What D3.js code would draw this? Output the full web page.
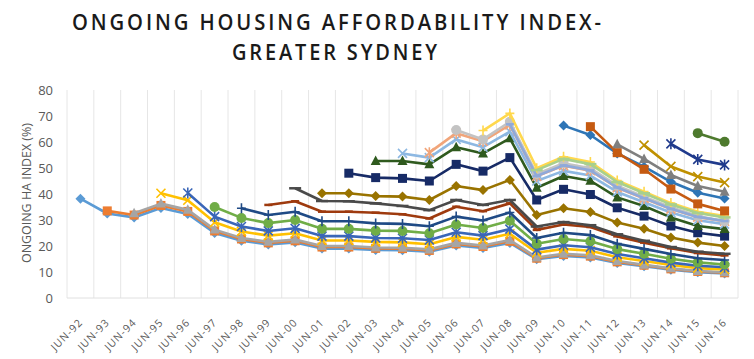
<!DOCTYPE html>
<html><head><meta charset="utf-8">
<script src="https://cdnjs.cloudflare.com/ajax/libs/d3/7.8.5/d3.min.js"></script>
<style>body{margin:0;background:#fff;} svg{display:block;}</style>
</head><body><svg id="c" width="754" height="359"></svg>
<script>
// ---------- DATA ----------
const categories = ["JUN-92","JUN-93","JUN-94","JUN-95","JUN-96","JUN-97","JUN-98","JUN-99","JUN-00","JUN-01","JUN-02","JUN-03","JUN-04","JUN-05","JUN-06","JUN-07","JUN-08","JUN-09","JUN-10","JUN-11","JUN-12","JUN-13","JUN-14","JUN-15","JUN-16"];
const yTicks = [0,10,20,30,40,50,60,70,80];
const titleLines = ["ONGOING HOUSING AFFORDABILITY INDEX-","GREATER SYDNEY"];
const yTitle = "ONGOING HA INDEX (%)";

// each cohort: values from its start year (JUN-xx) to JUN-16
const s92 = [38.2,32.5,31.0,34.6,32.3,25.0,22.0,20.6,21.4,19.0,19.0,18.5,18.4,17.8,20.2,19.2,21.2,14.9,16.2,15.6,13.5,12.2,10.9,9.9,9.4];
const s93 = [33.5,31.9,35.6,33.3,25.8,22.7,21.2,22.0,19.6,19.6,19.1,19.0,18.3,20.8,19.8,21.8,15.3,16.7,16.1,13.9,12.6,11.2,10.2,9.7];
const s94 = [32.6,36.3,33.9,26.3,23.1,21.6,22.5,20.0,20.0,19.4,19.3,18.7,21.2,20.2,22.3,15.6,17.0,16.4,14.2,12.8,11.4,10.4,9.9];
const s95 = [40.3,37.6,29.1,25.6,24.0,24.9,22.1,22.1,21.6,21.4,20.7,23.5,22.4,24.7,17.4,18.9,18.2,15.7,14.2,12.7,11.5,11.0];
const s96 = [40.4,31.3,27.5,25.8,26.8,23.8,23.8,23.1,23.0,22.3,25.3,24.0,26.5,18.6,20.3,19.5,16.9,15.3,13.6,12.4,11.8];
const s97 = [35.0,30.8,28.8,30.0,26.6,26.6,25.9,25.8,24.9,28.3,26.9,29.7,20.9,22.7,21.8,18.8,17.0,15.1,13.7,12.9];
const s98 = [34.5,31.9,33.2,29.5,29.5,28.7,28.5,27.6,31.3,29.8,32.9,23.1,25.1,24.2,20.9,18.9,16.9,15.3,14.6];
const s99 = [35.8,37.2,33.2,33.2,32.8,32.2,30.6,35.1,33.4,36.4,26.2,28.3,27.3,23.7,21.3,19.1,17.3,16.4];
const s00 = [42.2,37.3,37.2,36.4,35.4,33.8,37.7,35.8,37.7,27.5,29.2,28.0,24.5,22.0,19.6,17.8,17.0];
const s01 = [40.3,40.3,39.2,39.0,37.7,43.1,41.5,45.4,31.9,34.5,33.1,29.0,26.6,23.3,21.3,20.0];
const s02 = [48.0,46.3,46.0,45.0,51.4,48.8,54.0,37.7,41.8,39.8,34.7,31.5,27.7,25.1,23.8];
const s03 = [52.7,52.7,51.4,58.0,55.6,61.4,42.4,46.9,45.1,38.7,35.4,31.0,27.7,26.5];
const s04 = [55.6,54.0,61.0,58.0,64.0,45.0,48.9,47.1,40.8,36.8,32.9,29.9,28.4];
const s05 = [55.9,63.4,60.3,66.6,46.8,50.9,49.0,42.4,38.3,34.2,31.1,29.5];
const s06 = [64.6,61.0,67.8,47.7,51.8,49.9,43.2,39.0,34.9,31.5,29.5];
const s07 = [64.4,71.0,49.9,54.3,52.3,45.2,40.9,36.5,33.2,31.5];
const s08 = [66.8,46.9,51.0,49.1,42.5,38.4,34.3,31.2,29.6];
const s09 = [49.2,53.5,51.5,44.6,40.3,36.0,32.7,31.0];
const s10 = [66.3,62.7,55.6,50.5,44.7,40.5,38.3];
const s11 = [65.9,55.9,49.5,41.9,36.2,33.5];
const s12 = [59.1,53.5,47.3,43.1,40.9];
const s13 = [58.8,50.6,46.7,44.4];
const s14 = [59.3,53.3,51.2];
const s15 = [63.4,60.1];

const seriesStart = categories.slice(0, 24);
const seriesValues = [s92,s93,s94,s95,s96,s97,s98,s99,s00,s01,s02,s03,s04,s05,s06,s07,s08,s09,s10,s11,s12,s13,s14,s15];

// ---------- STYLE ----------
const seriesColors = ["#5B9BD5","#ED7D31","#A5A5A5","#FFC000","#3A66B8","#70AD47",
                      "#1F4A85","#9E3A0E","#4A4A4A","#997300","#172B66","#2F5A1E",
                      "#8DB8E2","#F1A57A","#C3C3C3","#FFD84D","#8FA9DA","#A8D08D",
                      "#2E75B6","#C55A11","#7F7F7F","#BF9000","#1F3A8C","#4E7A2E"];
const markerCycle = ["diamond","square","triangle","x","star","circle","plus","dash","longdash"];

const W = 754, H = 359;
const M = {left: 67, right: 738, top: 90, bottom: 298};
const svg = d3.select("#c");
svg.append("rect").attr("width", W).attr("height", H).attr("fill", "#fff");

const x = d3.scaleBand().domain(categories).range([M.left, M.right]).paddingInner(0).paddingOuter(0);
const y = d3.scaleLinear().domain([0, 80]).range([M.bottom, M.top]);
const cx = c => x(c) + x.bandwidth() / 2;

// vertical gridlines at band boundaries
const bounds = categories.map(c => x(c)).concat([M.right]);
svg.append("g").selectAll("line").data(bounds).join("line")
  .attr("x1", d => d).attr("x2", d => d)
  .attr("y1", M.top).attr("y2", M.bottom)
  .attr("stroke", "#e6e6e6").attr("stroke-width", 1);
svg.append("line").attr("x1", M.left).attr("x2", M.right)
  .attr("y1", M.bottom).attr("y2", M.bottom)
  .attr("stroke", "#e0e0e0").attr("stroke-width", 1);

// y axis
const yAxis = d3.axisLeft(y).tickValues(yTicks).tickSize(0).tickPadding(0);
const gy = svg.append("g").attr("transform", `translate(${M.left - 14},0)`).call(yAxis);
gy.select(".domain").remove();
gy.selectAll("text").attr("font-family", "'Open Sans', sans-serif").attr("font-size", 13)
  .attr("fill", "#595959").attr("dy", "0.35em");

// x axis labels
const xAxis = d3.axisBottom(x).tickSize(0).tickPadding(0);
const gx = svg.append("g").attr("transform", `translate(0,${M.bottom})`).call(xAxis);
gx.select(".domain").remove();
gx.selectAll(".tick text")
  .attr("font-family", "'Open Sans', sans-serif").attr("font-size", 10.5)
  .attr("letter-spacing", "1px")
  .attr("fill", "#595959")
  .attr("text-anchor", "end").attr("dy", 0).attr("y", 0)
  .attr("transform", "translate(3,25) rotate(-45)");

// y title
svg.append("text")
  .attr("transform", `translate(31,${(123+263)/2}) rotate(-90)`)
  .attr("text-anchor", "middle")
  .attr("font-family", "'Open Sans', sans-serif").attr("font-size", 12.5)
  .attr("fill", "#595959")
  .attr("textLength", 140).attr("lengthAdjust", "spacingAndGlyphs")
  .text(yTitle);

// title
svg.append("text").attr("x", 338).attr("y", 30).attr("text-anchor", "middle")
  .attr("font-family", "'Open Sans', sans-serif").attr("font-weight", 600).attr("font-size", 21)
  .attr("letter-spacing", "3px")
  .attr("fill", "#1a1a1a").attr("textLength", 532).attr("lengthAdjust", "spacingAndGlyphs")
  .text(titleLines[0]);
svg.append("text").attr("x", 336).attr("y", 60).attr("text-anchor", "middle")
  .attr("font-family", "'Open Sans', sans-serif").attr("font-weight", 600).attr("font-size", 21)
  .attr("letter-spacing", "3px")
  .attr("fill", "#1a1a1a").attr("textLength", 208).attr("lengthAdjust", "spacingAndGlyphs")
  .text(titleLines[1]);

// markers
function drawMarker(g, type, color) {
  const sw = 1.6;
  switch (type) {
    case "diamond": g.append("path").attr("d", "M0,-5L5,0L0,5L-5,0Z").attr("fill", color); break;
    case "square": g.append("rect").attr("x", -4.5).attr("y", -4.5).attr("width", 9).attr("height", 9).attr("fill", color); break;
    case "triangle": g.append("path").attr("d", "M0,-5.5L5,4L-5,4Z").attr("fill", color); break;
    case "x": g.append("path").attr("d", "M-4.5,-4.5L4.5,4.5M-4.5,4.5L4.5,-4.5").attr("stroke", color).attr("stroke-width", sw).attr("fill", "none"); break;
    case "star": g.append("path").attr("d", "M-4.5,-4.5L4.5,4.5M-4.5,4.5L4.5,-4.5M0,-5.5L0,5.5").attr("stroke", color).attr("stroke-width", sw).attr("fill", "none"); break;
    case "circle": g.append("circle").attr("r", 5).attr("fill", color); break;
    case "plus": g.append("path").attr("d", "M-4.5,0L4.5,0M0,-5L0,5").attr("stroke", color).attr("stroke-width", sw).attr("fill", "none"); break;
    case "dash": g.append("path").attr("d", "M-4,0L4,0").attr("stroke", color).attr("stroke-width", 2.5); break;
    case "longdash": g.append("path").attr("d", "M-6,0L6,0").attr("stroke", color).attr("stroke-width", 2.5); break;
  }
}

const line = d3.line().x(d => cx(d.c)).y(d => y(d.v));
const plot = svg.append("g");
seriesValues.forEach((vals, i) => {
  const start = categories.indexOf(seriesStart[i]);
  const pts = vals.map((v, k) => ({c: categories[start + k], v}));
  const color = seriesColors[i];
  const g = plot.append("g");
  g.append("path").datum(pts).attr("d", line)
    .attr("fill", "none").attr("stroke", color).attr("stroke-width", 2.6)
    .attr("stroke-linejoin", "round");
  const mtype = markerCycle[i % markerCycle.length];
  pts.forEach(p => {
    const mg = g.append("g").attr("transform", `translate(${cx(p.c)},${y(p.v)})`);
    drawMarker(mg, mtype, color);
  });
});
</script>
</body></html>
